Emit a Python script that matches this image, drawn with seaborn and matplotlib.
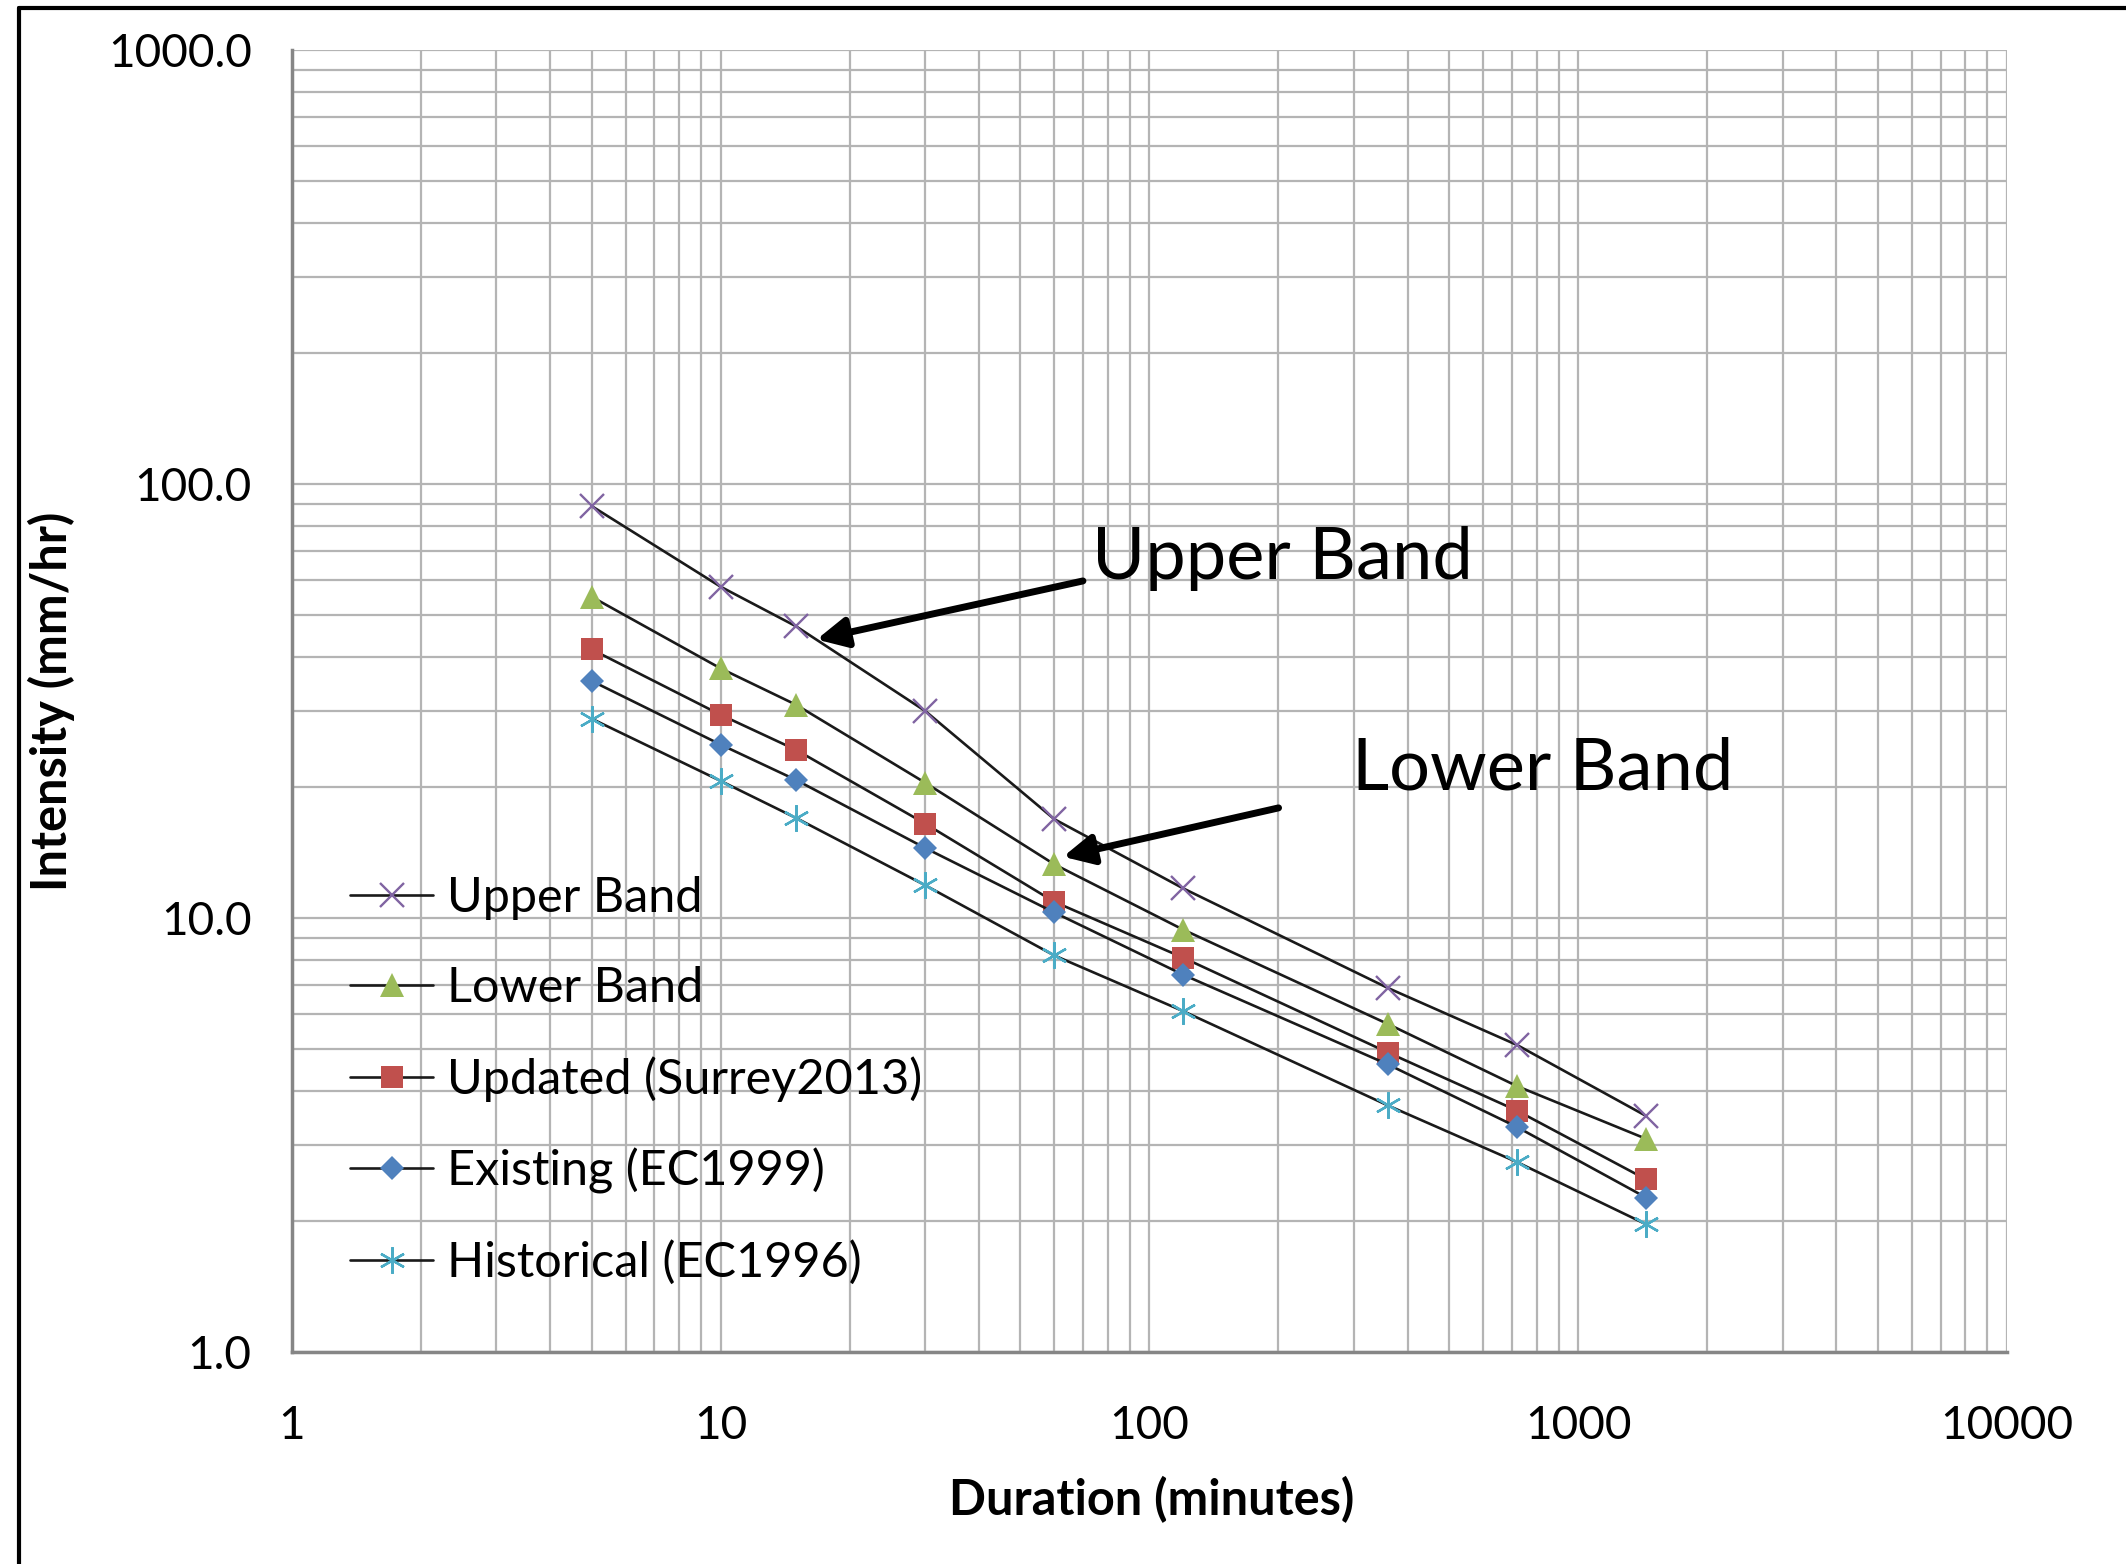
import matplotlib
matplotlib.use("Agg")
import matplotlib.pyplot as plt
import matplotlib.ticker as mticker
from matplotlib.lines import Line2D
import seaborn as sns

# durations (minutes) and intensities (mm/hr)
durations = [5, 10, 15, 30, 60, 120, 360, 720, 1440]
upper_band = [89, 58, 47, 30, 16.9, 11.7, 6.9, 5.1, 3.5]
lower_band = [55, 37.6, 31, 20.5, 13.3, 9.4, 5.7, 4.1, 3.1]
updated_surrey2013 = [41.6, 29.4, 24.4, 16.5, 10.9, 8.1, 4.9, 3.6, 2.5]
existing_ec1999 = [35.2, 25.1, 20.8, 14.5, 10.3, 7.4, 4.6, 3.3, 2.27]
historical_ec1996 = [28.8, 20.7, 17.0, 11.9, 8.2, 6.1, 3.7, 2.74, 1.97]

series_names = ["Upper Band", "Lower Band", "Updated (Surrey2013)",
                "Existing (EC1999)", "Historical (EC1996)"]
y_ticks = [1, 10, 100, 1000]
x_ticks = [1, 10, 100, 1000, 10000]

sns.set_style("white")
plt.rcParams["font.family"] = ["Lato", "DejaVu Sans"]
plt.rcParams["text.color"] = "black"
plt.rcParams["axes.labelcolor"] = "black"

fig = plt.figure(figsize=(21.26, 15.64), dpi=100)
ax = fig.add_axes([0.1373, 0.1355, 0.8067, 0.8325])

styles = [
    dict(marker="x", ms=17, mew=1.7, mec="#8064A2", mfc="#8064A2"),
    dict(marker="^", ms=17, mew=0, mec="#9BBB59", mfc="#9BBB59"),
    dict(marker="s", ms=16, mew=0, mec="#C0504D", mfc="#C0504D"),
    dict(marker="D", ms=12, mew=0, mec="#4F81BD", mfc="#4F81BD"),
    dict(marker=(6, 2, 0), ms=19, mew=1.7, mec="#4BACC6", mfc="#4BACC6"),
]
all_series = [upper_band, lower_band, updated_surrey2013, existing_ec1999, historical_ec1996]
for name, vals, st in zip(series_names, all_series, styles):
    sns.lineplot(x=durations, y=vals, ax=ax, color="#1a1a1a", lw=1.9,
                 label=name, **st)

ax.set_xscale("log")
ax.set_yscale("log")
ax.set_xlim(1, 10000)
ax.set_ylim(1, 1000)

ax.xaxis.set_major_locator(mticker.FixedLocator(x_ticks))
ax.xaxis.set_major_formatter(mticker.FixedFormatter([str(t) for t in x_ticks]))
ax.yaxis.set_major_locator(mticker.FixedLocator(y_ticks))
ax.yaxis.set_major_formatter(mticker.FixedFormatter([f"{t:.1f}" for t in y_ticks]))
ax.xaxis.set_minor_locator(mticker.LogLocator(base=10, subs=range(2, 10)))
ax.yaxis.set_minor_locator(mticker.LogLocator(base=10, subs=range(2, 10)))
ax.xaxis.set_minor_formatter(mticker.NullFormatter())
ax.yaxis.set_minor_formatter(mticker.NullFormatter())

ax.grid(True, which="both", color="#b4b4b4", lw=1.6)
ax.set_axisbelow(True)
for side in ["top", "right"]:
    ax.spines[side].set_visible(False)
for side in ["left", "bottom"]:
    ax.spines[side].set_color("#868686")
    ax.spines[side].set_linewidth(2.5)

ax.tick_params(axis="x", which="major", direction="out", length=13, width=1.6,
               color="#b4b4b4", pad=25, labelsize=33, labelcolor="black")
ax.tick_params(axis="y", which="major", direction="out", length=11, width=2.5,
               color="#868686", pad=18, labelsize=33, labelcolor="black")
ax.tick_params(which="minor", length=0)

ax.set_xlabel("Duration (minutes)", fontsize=35, fontweight="bold")
ax.set_ylabel("Intensity (mm/hr)", fontsize=35, fontweight="bold", va="center")
ax.xaxis.set_label_coords(0.5015, -0.095)
ax.yaxis.set_label_coords(-0.14, 0.5)

ax.legend(loc="upper left", bbox_to_anchor=(0.034, 0.366), frameon=False,
          fontsize=35, handlelength=1.7, handletextpad=0.3, labelspacing=0.95,
          borderpad=0, borderaxespad=0)

# callouts
arrow = dict(arrowstyle="-|>", lw=5, color="black", mutation_scale=45)
ax.annotate("", xy=(16.5, 43.7), xytext=(71, 60), arrowprops=arrow)
ax.text(73.4, 67.5, "Upper Band", fontsize=52, va="center", ha="left")
ax.annotate("", xy=(62, 13.8), xytext=(203, 18.0), arrowprops=arrow)
ax.text(297, 22.0, "Lower Band", fontsize=52, va="center", ha="left")

# frame lines on the left and top of the image
fig.add_artist(Line2D([0.0089, 0.0089], [0, 0.9951], color="black", lw=3))
fig.add_artist(Line2D([0.0089, 1], [0.9951, 0.9951], color="black", lw=3))

fig.savefig("out.png", dpi=100)
